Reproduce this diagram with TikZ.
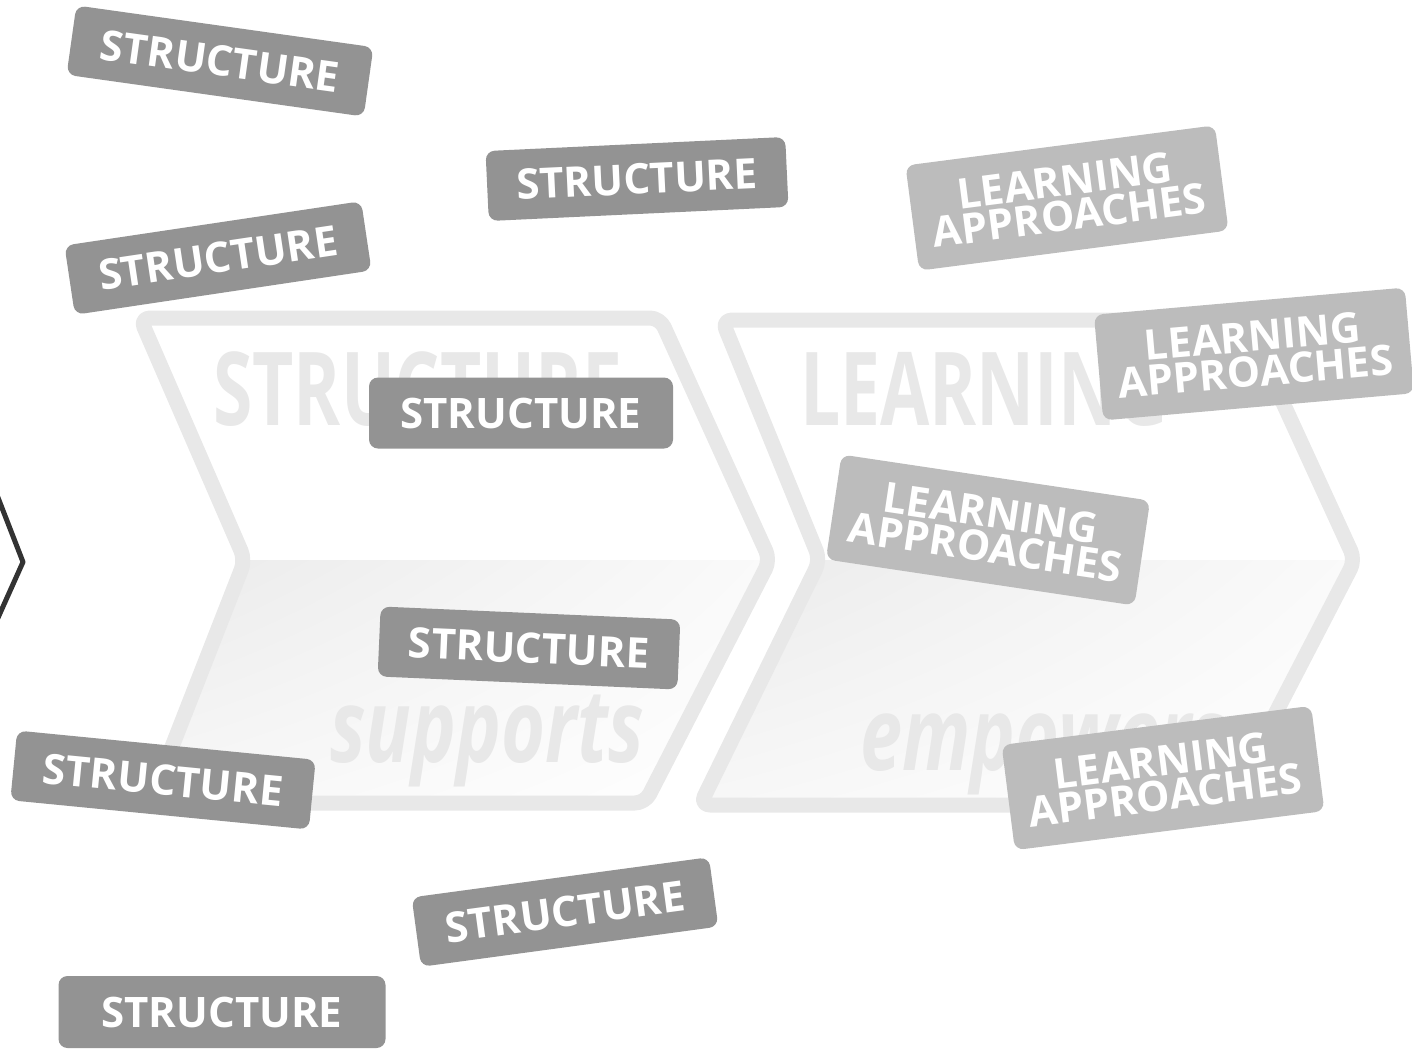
\documentclass[tikz,border=0pt]{standalone}
\usepackage{fontspec}
\setmainfont{Open Sans}
\newfontfamily\ghostfont{Open Sans}[FakeStretch=0.70]
\newfontfamily\ghostitfont{Open Sans}[FakeStretch=0.74]
\usetikzlibrary{shadings}
\definecolor{tagdark}{HTML}{939393}
\definecolor{taglight}{HTML}{BCBCBC}
\definecolor{ghost}{HTML}{E8E8E8}
\definecolor{edgedark}{HTML}{333333}
\tikzset{
  chevron/.style={draw=ghost, line width=15pt, rounded corners=10pt, line join=round},
  chevronfill/.style={upper left=black!8, upper right=black!2, lower left=black!3, lower right=white},
  ghosttext/.style={text=ghost, inner sep=0pt, anchor=base west, font=\ghostfont\bfseries\fontsize{102}{102}\selectfont},
  ghostitext/.style={ghosttext, font=\ghostitfont\bfseries\itshape\fontsize{102}{102}\selectfont},
  tag/.style={fill=tagdark, text=white, rounded corners=9pt, inner sep=0pt,
    minimum width=300pt, minimum height=70pt, font=\bfseries\fontsize{42}{42}\selectfont},
  lighttag/.style={tag, fill=taglight, align=center, minimum width=312pt, minimum height=106pt,
    font=\bfseries\fontsize{42}{35}\selectfont}
}
\begin{document}
\begin{tikzpicture}[x=1pt,y=-1pt]
\useasboundingbox (0,0) rectangle (1412,1049);
\shade[chevronfill] (245,560) -- (770,560) -- (645,803) -- (150,803) -- cycle;
\shade[chevronfill] (820,560) -- (1355,560) -- (1228,805) -- (700,805) -- cycle;
\draw[chevron] (140,318) -- (660,318) -- (770,560) -- (645,803) -- (150,803) -- (245,560) -- cycle;
\draw[chevron] (722,320) -- (1245,320) -- (1355,560) -- (1228,805) -- (700,805) -- (820,560) -- cycle;
\draw[edgedark, line width=5pt, line join=round] (-3,495) -- (23,562) -- (-3,620);

\node[ghosttext] (bgstructure) at (213,425) {STRUCTURE};
\node[ghosttext] (bglearning) at (800,425) {LEARNING};
\node[ghostitext] (bgsupports) at (330,762) {supports};
\node[ghostitext] (bgempowers) at (860,770) {empowers};

\node[tag, rotate=-8] (s1) at (220,61) {STRUCTURE};
\node[tag, rotate=8.5] (s2) at (218,258) {STRUCTURE};
\node[tag, rotate=2.7] (s3) at (637,179) {STRUCTURE};
\node[tag, minimum width=304pt, minimum height=71pt] (s4) at (521,413) {STRUCTURE};
\node[tag, rotate=-2.5] (s5) at (529,648) {STRUCTURE};
\node[tag, rotate=-5.6] (s6) at (163,780) {STRUCTURE};
\node[tag, rotate=7.7] (s7) at (565,912) {STRUCTURE};
\node[tag, minimum width=327pt, minimum height=72pt] (s8) at (222,1012) {STRUCTURE};

\node[lighttag, rotate=7.4] (l1) at (1067,198) {LEARNING\\APPROACHES};
\node[lighttag, rotate=5] (l2) at (1254,354) {LEARNING\\APPROACHES};
\node[lighttag, rotate=-8.5] (l3) at (988,530) {LEARNING\\APPROACHES};
\node[lighttag, rotate=7.2] (l4) at (1163,778) {LEARNING\\APPROACHES};
\end{tikzpicture}
\end{document}
